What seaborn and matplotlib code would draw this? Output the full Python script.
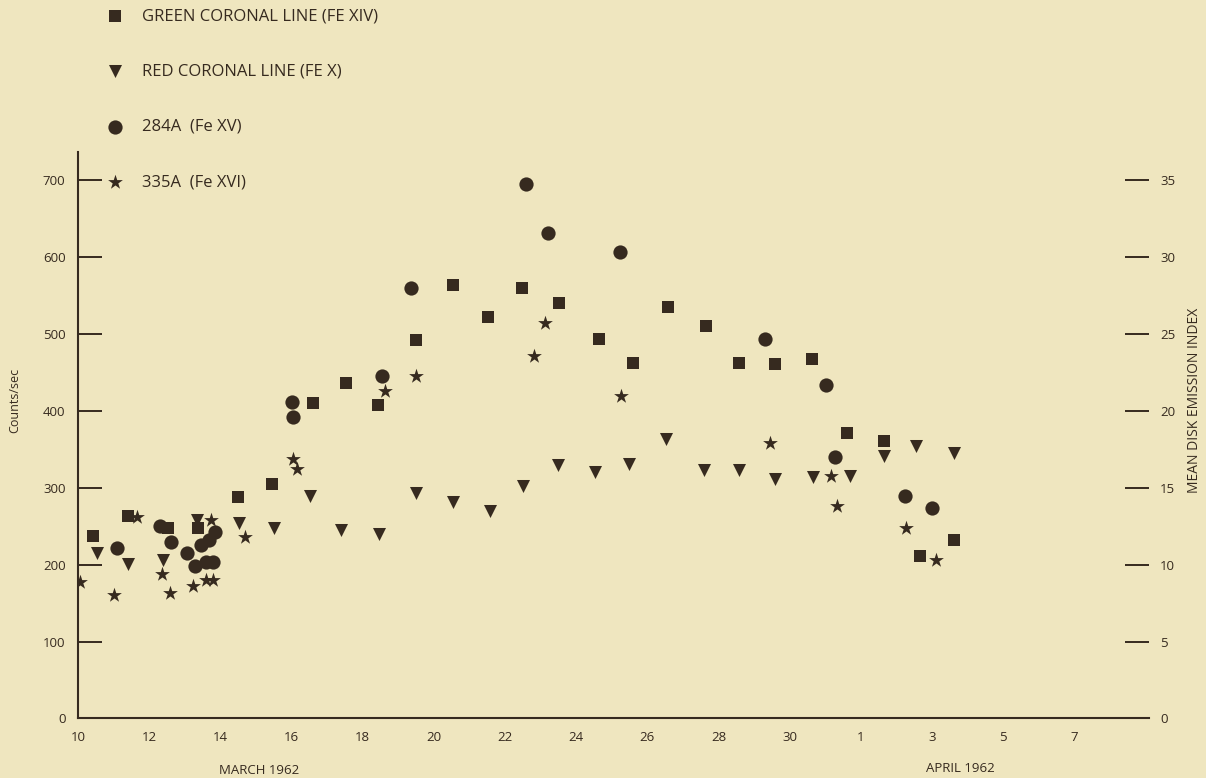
"""Coronal line intensities vs EUV counts, March-April 1962 (scatter reproduction)."""

import matplotlib
matplotlib.use("Agg")
import matplotlib.pyplot as plt
import matplotlib.transforms as mtransforms
import seaborn as sns

# Day numbers counted from 1 March (1 April = 32)
green_days = [10.43, 11.41, 12.54, 13.38, 14.49, 15.44, 16.61, 17.52, 18.43, 19.51,
              20.54, 21.53, 22.48, 23.52, 24.63, 25.6, 26.58, 27.64, 28.58, 29.6,
              30.64, 31.61, 32.65, 33.65, 34.62]
green_counts = [237, 264, 248, 248, 288, 305, 410, 437, 408, 493,
                564, 523, 560, 541, 494, 462, 536, 511, 463, 461,
                468, 372, 361, 211, 232]

red_days = [10.52, 11.41, 12.4, 13.33, 14.52, 15.5, 16.52, 17.39, 18.47, 19.51,
            20.54, 21.57, 22.51, 23.49, 24.52, 25.48, 26.53, 27.58, 28.57, 29.6,
            30.66, 31.69, 32.65, 33.56, 34.62]
red_counts = [215, 201, 206, 258, 254, 248, 290, 245, 240, 293,
              282, 270, 302, 330, 321, 331, 364, 323, 323, 311,
              314, 315, 342, 355, 346]

fe15_days = [11.09, 12.3, 12.6, 13.05, 13.3, 13.45, 13.6, 13.78, 13.68, 13.85,
             16.0, 16.05, 18.55, 19.37, 22.58, 23.21, 25.24, 29.3, 31.03, 31.28,
             33.25, 34.0]
fe15_counts = [222, 250, 230, 215, 198, 226, 203, 204, 232, 243,
               412, 392, 446, 560, 695, 632, 607, 494, 434, 340,
               289, 274]

fe16_days = [10.05, 11.0, 11.67, 12.35, 12.58, 13.24, 13.6, 13.8, 13.75, 14.69,
             16.05, 16.14, 18.62, 19.49, 22.82, 23.12, 25.27, 29.45, 31.17, 31.34,
             33.28, 34.1]
fe16_counts = [178, 161, 262, 188, 163, 172, 180, 180, 258, 236,
               337, 325, 426, 446, 472, 514, 420, 358, 315, 276,
               248, 206]

tick_days = [10, 12, 14, 16, 18, 20, 22, 24, 26, 28, 30, 32, 34, 36, 38]
tick_labels = ["10", "12", "14", "16", "18", "20", "22", "24", "26", "28", "30",
               "1", "3", "5", "7"]
left_ticks = [0, 100, 200, 300, 400, 500, 600, 700]
right_ticks = [0, 5, 10, 15, 20, 25, 30, 35]

INK = "#362a1f"
PAPER = "#efe6bf"


def plot_series(ax, days, counts, marker, size, label):
    sns.scatterplot(x=days, y=counts, marker=marker, s=size, color=INK,
                    linewidth=0, ax=ax, label=label)


def main():
    sns.set_style("white")
    plt.rcParams["font.family"] = ["Open Sans", "DejaVu Sans"]

    fig = plt.figure(figsize=(12.06, 7.78), dpi=100, facecolor=PAPER)
    ax = fig.add_axes([0.0647, 0.0765, 0.8881, 0.7281])
    ax.set_facecolor(PAPER)

    plot_series(ax, green_days, green_counts, "s", 66, "GREEN CORONAL LINE (FE XIV)")
    plot_series(ax, red_days, red_counts, "v", 88, "RED CORONAL LINE (FE X)")
    plot_series(ax, fe15_days, fe15_counts, "o", 105, "284A  (Fe XV)")
    plot_series(ax, fe16_days, fe16_counts, "*", 125, "335A  (Fe XVI)")

    ax.set_xlim(10, 40.1)
    ax.set_ylim(0, 737)
    ax.set_xticks(tick_days)
    ax.set_xticklabels(tick_labels)
    ax.set_yticks(left_ticks)
    ax.tick_params(axis="x", direction="in", length=18, width=1.4, pad=9,
                   colors=INK, labelsize=9.5)
    ax.tick_params(axis="y", direction="in", length=17, width=1.4, pad=9,
                   colors=INK, labelsize=9.5)
    for side in ["top", "right"]:
        ax.spines[side].set_visible(False)
    for side in ["left", "bottom"]:
        ax.spines[side].set_color(INK)
        ax.spines[side].set_linewidth(1.5)
    ax.set_xlabel("")
    ax.set_ylabel("Counts/sec", fontsize=9, color=INK)
    ax.yaxis.set_label_coords(-0.053, 0.562)

    # right-hand index scale (20 counts per index unit)
    ax2 = ax.twinx()
    ax2.set_ylim(0, 737 / 20)
    ax2.set_yticks(right_ticks)
    ax2.tick_params(axis="y", direction="in", length=17, width=1.4, pad=8,
                    colors=INK, labelsize=9.5)
    for side in ["top", "right", "left", "bottom"]:
        ax2.spines[side].set_visible(False)
    ax2.set_ylabel("MEAN DISK EMISSION INDEX", fontsize=10, color=INK)
    ax2.yaxis.set_label_coords(1.035, 0.562)

    trans = mtransforms.blended_transform_factory(ax.transData, ax.transAxes)
    ax.text(15.1, -0.091, "MARCH 1962", transform=trans, ha="center", va="center",
            fontsize=9.5, color=INK)
    ax.text(34.8, -0.088, "APRIL 1962", transform=trans, ha="center", va="center",
            fontsize=9.5, color=INK)

    handles, labels = ax.get_legend_handles_labels()
    ax.get_legend().remove()
    fig.legend(handles, labels, loc="upper left", bbox_to_anchor=(0.0885, 0.989),
               frameon=False, handlelength=1.0, handletextpad=1.12, labelspacing=2.35,
               borderpad=0, borderaxespad=0, fontsize=12, labelcolor=INK)

    fig.savefig("out.png", dpi=100, facecolor=PAPER)


if __name__ == "__main__":
    main()
